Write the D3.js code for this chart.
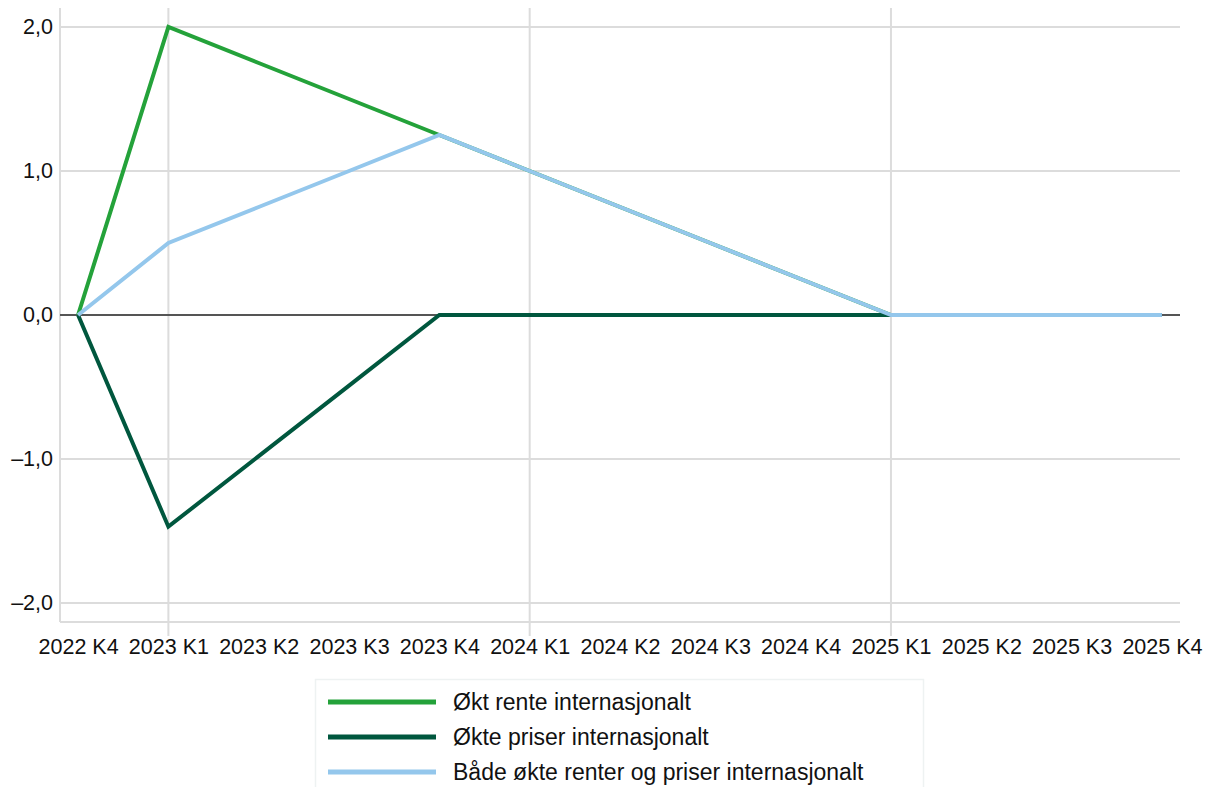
<!DOCTYPE html>
<html>
<head>
<meta charset="utf-8">
<script src="https://cdn.jsdelivr.net/npm/d3@7"></script>
<style>
  html, body { margin: 0; padding: 0; background: #fff; }
  svg { display: block; font-family: "Liberation Sans", Arial, sans-serif; }
</style>
</head>
<body>
<svg id="chart" width="1205" height="787"></svg>
<script>
// Quarters on the x axis
const quarters = ["2022 K4", "2023 K1", "2023 K2", "2023 K3", "2023 K4", "2024 K1", "2024 K2",
                  "2024 K3", "2024 K4", "2025 K1", "2025 K2", "2025 K3", "2025 K4"];

// Scenario paths (percentage points)
const rente  = [0, 2.0, 1.75, 1.5, 1.25, 1.0, 0.75, 0.5, 0.25, 0, 0, 0, 0];
const priser = [0, -1.47, -0.98, -0.49, 0, 0, 0, 0, 0, 0, 0, 0, 0];
const begge  = [0, 0.5, 0.75, 1.0, 1.25, 1.0, 0.75, 0.5, 0.25, 0, 0, 0, 0];

const seriesNames = ["Økt rente internasjonalt", "Økte priser internasjonalt", "Både økte renter og priser internasjonalt"];
const seriesColors = ["#24a23a", "#00573e", "#94c7ec"];
const seriesValues = [rente, priser, begge];

const yTicks = [-2, -1, 0, 1, 2];
const gridQuarters = ["2023 K1", "2024 K1", "2025 K1"];

const svg = d3.select("#chart");
const plotLeft = 60, plotRight = 1180, plotTop = 8, plotBottom = 622;

const x = d3.scalePoint().domain(quarters).range([plotLeft, plotRight]).padding(0.2);
const y = d3.scaleLinear().domain([-2.132, 2.132]).range([plotBottom, plotTop]);

const fmt = v => (v < 0 ? "\u2013" : "") + d3.format(".1f")(Math.abs(v)).replace(".", ",");

// Horizontal grid
svg.append("g").selectAll("line")
  .data(yTicks.filter(d => d !== 0))
  .join("line")
  .attr("x1", plotLeft).attr("x2", plotRight)
  .attr("y1", d => y(d)).attr("y2", d => y(d))
  .attr("stroke", "#dcdcdc").attr("stroke-width", 2);

// Vertical grid at each first quarter
svg.append("g").selectAll("line")
  .data(gridQuarters)
  .join("line")
  .attr("x1", d => x(d)).attr("x2", d => x(d))
  .attr("y1", plotTop).attr("y2", 636)
  .attr("stroke", "#dcdcdc").attr("stroke-width", 2);

// Frame: left and bottom edges
svg.append("line").attr("x1", plotLeft).attr("x2", plotLeft).attr("y1", plotTop).attr("y2", plotBottom)
  .attr("stroke", "#dcdcdc").attr("stroke-width", 2);
svg.append("line").attr("x1", plotLeft).attr("x2", plotRight).attr("y1", plotBottom).attr("y2", plotBottom)
  .attr("stroke", "#dcdcdc").attr("stroke-width", 2);

// Zero line
svg.append("line").attr("x1", plotLeft).attr("x2", plotRight).attr("y1", y(0)).attr("y2", y(0))
  .attr("stroke", "#555555").attr("stroke-width", 2);

// Y axis labels
const yAxis = d3.axisLeft(y).tickValues(yTicks).tickFormat(fmt).tickSize(0).tickPadding(7);
const gy = svg.append("g").attr("transform", `translate(${plotLeft},0)`).call(yAxis);
gy.select(".domain").remove();
gy.selectAll("text").attr("font-size", 21.5).attr("fill", "#111").attr("font-family", "Liberation Sans, Arial, sans-serif");

// X axis labels
const xAxis = d3.axisBottom(x).tickSize(0).tickPadding(17);
const gx = svg.append("g").attr("transform", `translate(0,${plotBottom})`).call(xAxis);
gx.select(".domain").remove();
gx.selectAll("text").attr("font-size", 21.5).attr("fill", "#111").attr("font-family", "Liberation Sans, Arial, sans-serif");

// Lines
const line = d3.line().x((d, i) => x(quarters[i])).y(d => y(d));
svg.append("g").selectAll("path")
  .data(seriesValues)
  .join("path")
  .attr("d", d => line(d))
  .attr("fill", "none")
  .attr("stroke", (d, i) => seriesColors[i])
  .attr("stroke-width", 4)
  .attr("stroke-linejoin", "miter");

// Legend
const legend = svg.append("g");
legend.append("rect")
  .attr("x", 315.5).attr("y", 679.5).attr("width", 608).attr("height", 130)
  .attr("fill", "#fff").attr("stroke", "#eef2f2").attr("stroke-width", 1.5);
const items = legend.selectAll("g.item")
  .data(seriesNames)
  .join("g")
  .attr("class", "item")
  .attr("transform", (d, i) => `translate(0,${702 + i * 35})`);
items.append("line")
  .attr("x1", 328).attr("x2", 436).attr("y1", 0).attr("y2", 0)
  .attr("stroke", (d, i) => seriesColors[i]).attr("stroke-width", 5);
items.append("text")
  .attr("x", 453).attr("y", 0).attr("dy", "0.35em")
  .attr("font-size", 23).attr("fill", "#111")
  .text(d => d);
</script>
</body>
</html>
